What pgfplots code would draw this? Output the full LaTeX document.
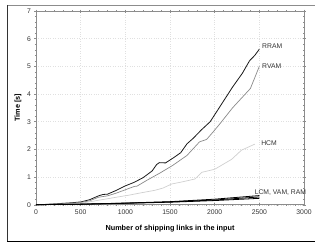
\documentclass[border=0pt]{standalone}
\usepackage{pgfplots}
\pgfplotsset{compat=1.18}
\usepackage{fontspec}
\setmainfont{Liberation Sans}
\definecolor{tickc}{HTML}{333333}
\definecolor{rvam}{HTML}{8A8A8A}
\definecolor{hcm}{HTML}{CFCFCF}
\definecolor{axc}{HTML}{8C8C8C}
\begin{document}
\begin{tikzpicture}[x=1pt,y=1pt]
\useasboundingbox (0,0) rectangle (315,244);
\draw[axc,line width=0.8pt] (7,239) -- (315,239);
\draw[black!80,line width=0.8pt] (7,239) -- (7,3);
\draw[black,line width=1pt] (7,3) -- (315,3);
\begin{axis}[
  at={(36pt,39.3pt)}, anchor=south west,
  scale only axis, width=268pt, height=193.7pt,
  xmin=0, xmax=3000, ymin=0, ymax=7,
  xtick={0,500,...,3000}, ytick={0,1,...,7},
  minor x tick num=4, minor y tick num=4,
  tick align=center,
  major tick length=3pt, minor tick length=2pt,
  every tick/.style={axc, line width=0.4pt},
  axis line style={axc, line width=0.5pt},
  grid=major,
  major grid style={dotted, black!12, line width=0.4pt},
  /pgf/number format/assume math mode=true,
  /pgf/number format/1000 sep={},
  ticklabel style={font=\fontsize{6.8}{8}\selectfont, text=tickc},
  xlabel={Number of shipping links in the input},
  ylabel={Time [s]},
  label style={font=\fontsize{7.3}{8.5}\selectfont\bfseries},
  xlabel style={at={(axis description cs:0.5,-0.124)}, anchor=center},
  ylabel style={at={(axis description cs:-0.067,0.5)}, anchor=center},
  clip=false,
]
\addplot[black!90, line width=0.8pt] coordinates {
(0,0) (100,0.01) (200,0.03) (300,0.05) (400,0.07) (500,0.10) (600,0.18) (700,0.32) (750,0.37) (800,0.38) (900,0.52) (1000,0.68) (1100,0.81) (1200,0.98) (1300,1.22) (1350,1.45) (1380,1.52) (1450,1.51) (1550,1.72) (1620,1.88) (1690,2.2) (1760,2.4) (1850,2.7) (1950,3.0) (2050,3.5) (2200,4.25) (2310,4.75) (2390,5.2) (2450,5.4) (2500,5.62)
};
\addplot[rvam, line width=0.7pt] coordinates {
(0,0) (300,0.03) (500,0.08) (600,0.14) (700,0.27) (800,0.32) (900,0.42) (1050,0.6) (1100,0.66) (1130,0.67) (1240,0.88) (1385,1.14) (1530,1.42) (1690,1.78) (1830,2.27) (1910,2.36) (1980,2.62) (2060,2.93) (2200,3.5) (2400,4.2) (2500,5.0)
};
\addplot[hcm, line width=0.7pt] coordinates {
(0,0) (300,0.02) (500,0.05) (680,0.15) (900,0.27) (1050,0.35) (1160,0.42) (1330,0.52) (1420,0.6) (1520,0.75) (1630,0.82) (1780,0.93) (1855,1.17) (2000,1.28) (2190,1.64) (2300,1.97) (2450,2.19)
};
\addplot[black, line width=0.8pt] coordinates {
(0,0) (500,0.02) (1000,0.06) (1500,0.11) (2000,0.2) (2500,0.33)
};
\addplot[black, line width=0.8pt] coordinates {
(0,0) (500,0.02) (1000,0.055) (1500,0.1) (2000,0.17) (2500,0.28)
};
\addplot[black, line width=0.8pt] coordinates {
(0,0) (500,0.015) (1000,0.05) (1500,0.09) (2000,0.15) (2500,0.23)
};
\node[anchor=west, inner sep=0pt, font=\fontsize{6.8}{8}\selectfont, text=tickc] at (axis cs:2530,5.73) {RRAM};
\node[anchor=west, inner sep=0pt, font=\fontsize{6.8}{8}\selectfont, text=tickc] at (axis cs:2530,5.0) {RVAM};
\node[anchor=west, inner sep=0pt, font=\fontsize{6.8}{8}\selectfont, text=tickc] at (axis cs:2520,2.23) {HCM};
\node[anchor=west, inner sep=0pt, font=\fontsize{6.8}{8}\selectfont, text=tickc] at (axis cs:2447,0.45) {LCM, VAM, RAM};
\end{axis}
\end{tikzpicture}
\end{document}
